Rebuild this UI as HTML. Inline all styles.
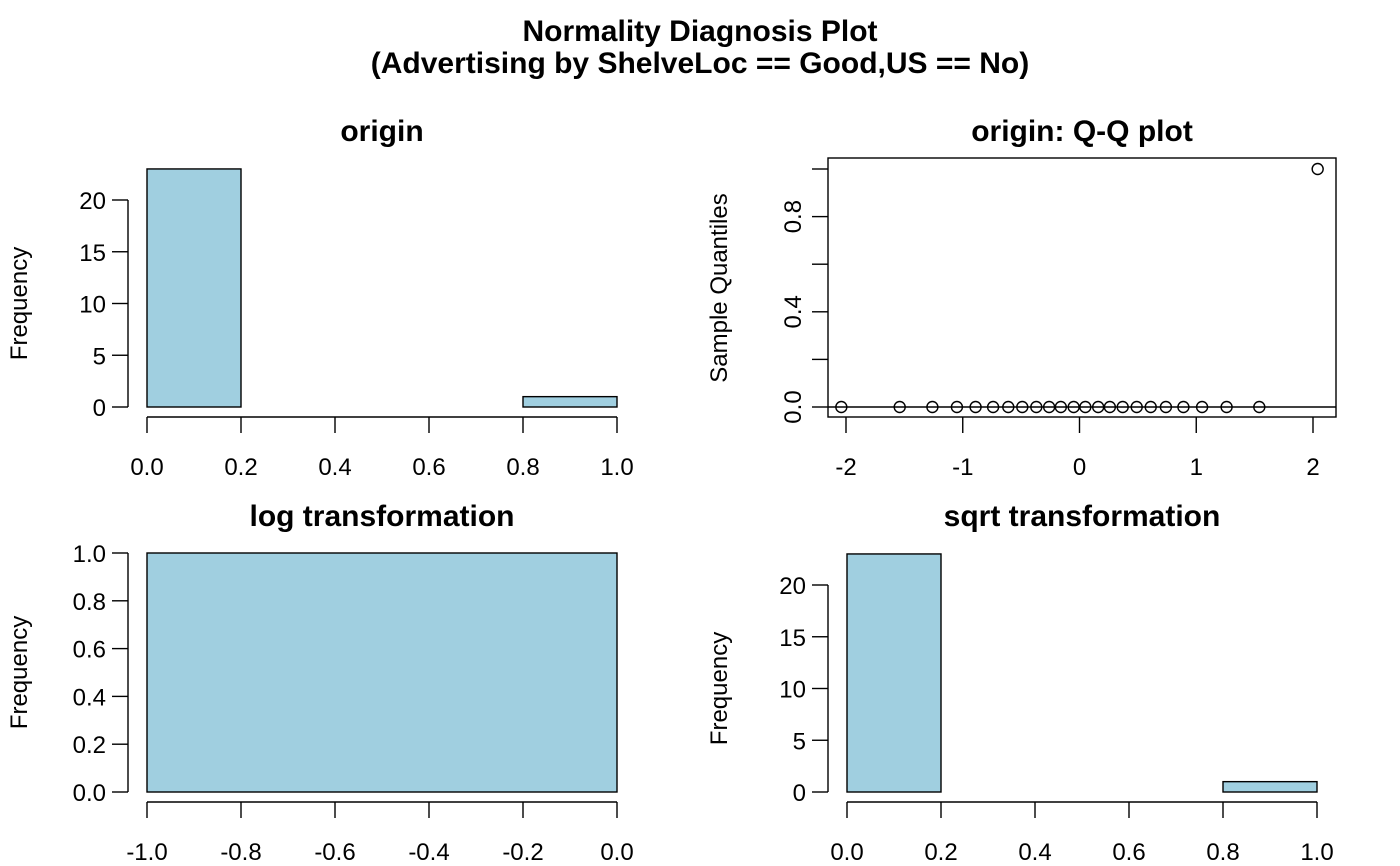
<!DOCTYPE html>
<html><head><meta charset="utf-8"><style>
body{margin:0;background:#fff}
svg{display:block;font-family:"Liberation Sans",Arial,sans-serif}
</style></head><body>
<svg id="c" width="1400" height="866" xmlns="http://www.w3.org/2000/svg">
<text style="font-weight:bold;font-size:30px" text-anchor="middle" x="700" y="41">Normality Diagnosis Plot</text>
<text style="font-weight:bold;font-size:30px" text-anchor="middle" x="700" y="73">(Advertising by ShelveLoc == Good,US == No)</text>
</svg>
<script>
const originBreaks=[0,0.2,0.4,0.6,0.8,1.0];
const originCounts=[23,0,0,0,1];
const logBreaks=[-1.0,0.0];
const logCounts=[1];
const sqrtBreaks=[0,0.2,0.4,0.6,0.8,1.0];
const sqrtCounts=[23,0,0,0,1];
const qqTheo=[-2.04,-1.54,-1.26,-1.05,-0.89,-0.74,-0.61,-0.49,-0.37,-0.26,-0.16,-0.05,0.05,0.16,0.26,0.37,0.49,0.61,0.74,0.89,1.05,1.26,1.54,2.04];
const qqSample=[0,0,0,0,0,0,0,0,0,0,0,0,0,0,0,0,0,0,0,0,0,0,0,1];
const xTicksHist=["0.0","0.2","0.4","0.6","0.8","1.0"];
const xTicksLog=["-1.0","-0.8","-0.6","-0.4","-0.2","0.0"];
const yTicksHist=[0,5,10,15,20];
const yTicksLog=["0.0","0.2","0.4","0.6","0.8","1.0"];
const qqXTicks=[-2,-1,0,1,2];
const qqYTicks=[0,0.2,0.4,0.6,0.8,1.0];
const qqYLabels=["0.0","","0.4","","0.8",""];

const svg=document.getElementById('c');
const NS='http://www.w3.org/2000/svg';
const TS='font-weight:bold;font-size:30px';
const KS='font-size:24px';
function mk(tag,attrs,parent){const e=document.createElementNS(NS,tag);for(const k in attrs)e.setAttribute(k,attrs[k]);(parent||svg).appendChild(e);return e;}
function txt(s,attrs,parent){const e=mk('text',attrs,parent);e.textContent=s;return e;}

function hist(o){
  const g=mk('g',{});
  
  
  const sx=v=>o.x0+(v-o.xmin)/(o.xmax-o.xmin)*(o.x1-o.x0);
  const sy=v=>o.y0-(v/o.ymax)*(o.y0-o.y1);
  const t=txt(o.title,{style:TS,'text-anchor':'middle',x:(o.x0+o.x1)/2,y:o.ty},g);
  
  for(let i=0;i<o.counts.length;i++){
    const a=sx(o.breaks[i]),b=sx(o.breaks[i+1]),h=sy(o.counts[i]);
    const r=mk('rect',{x:a,y:h,width:b-a,height:sy(0)-h,fill:'#a0cfe0',stroke:'#000','stroke-width':1.4},g);
    
  }
  const yt=o.yticks;
  const ya=mk('line',{x1:o.ax,x2:o.ax,y1:sy(+yt[0]),y2:sy(+yt[yt.length-1]),stroke:'#000','stroke-width':1.4},g);
  
  yt.forEach(v=>{const y=sy(+v);mk('line',{x1:o.ax-16,x2:o.ax,y1:y,y2:y,stroke:'#000','stroke-width':1.4},g);
    const l=txt(String(v),{style:KS,x:o.ax-22,y:y+9,'text-anchor':'end'},g);});
  const ay=o.y0+10;
  const xa=mk('line',{x1:o.x0,x2:o.x1,y1:ay,y2:ay,stroke:'#000','stroke-width':1.4},g);
  
  o.xticks.forEach(v=>{const x=sx(+v);mk('line',{x1:x,x2:x,y1:ay,y2:ay+16,stroke:'#000','stroke-width':1.4},g);
    const l=txt(v,{style:KS,x:x,y:ay+58,'text-anchor':'middle'},g);});
  const yl=txt('Frequency',{style:KS,transform:`translate(${o.ax-101},${(sy(0)+sy(+yt[yt.length-1]))/2}) rotate(-90)`,'text-anchor':'middle'},g);
  
}
hist({name:'origin-histogram',title:'origin',ty:141,breaks:originBreaks,counts:originCounts,xmin:0,xmax:1,x0:147,x1:617,y0:407,y1:200,ymax:20,ax:128,yticks:yTicksHist,xticks:xTicksHist});
hist({name:'log-histogram',title:'log transformation',ty:526,breaks:logBreaks,counts:logCounts,xmin:-1,xmax:0,x0:147,x1:617,y0:792,y1:553,ymax:1,ax:128,yticks:yTicksLog,xticks:xTicksLog});
hist({name:'sqrt-histogram',title:'sqrt transformation',ty:526,breaks:sqrtBreaks,counts:sqrtCounts,xmin:0,xmax:1,x0:847,x1:1317,y0:792,y1:585,ymax:20,ax:828,yticks:yTicksHist,xticks:xTicksHist});

(function(){
  const g=mk('g',{});
  
  
  const bx0=828,bx1=1336,by0=158,by1=417;
  const sx=v=>846+(v+2)/4*(1313-846);
  const sy=v=>407-v*(407-169);
  const t=txt('origin: Q-Q plot',{style:TS,'text-anchor':'middle',x:1082,y:141},g);
  
  const box=mk('rect',{x:bx0,y:by0,width:bx1-bx0,height:by1-by0,fill:'none',stroke:'#000','stroke-width':1.4},g);
  
  qqYTicks.forEach((v,i)=>{const y=sy(v);mk('line',{x1:bx0-16,x2:bx0,y1:y,y2:y,stroke:'#000','stroke-width':1.4},g);
    if(qqYLabels[i]){const l=txt(qqYLabels[i],{style:KS,transform:`translate(${bx0-27},${y}) rotate(-90)`,'text-anchor':'middle'},g);}});
  qqXTicks.forEach(v=>{const x=sx(v);mk('line',{x1:x,x2:x,y1:by1,y2:by1+16,stroke:'#000','stroke-width':1.4},g);
    const l=txt(String(v),{style:KS,x:x,y:by1+58,'text-anchor':'middle'},g);});
  const yl=txt('Sample Quantiles',{style:KS,transform:`translate(727,${sy(0.5)}) rotate(-90)`,'text-anchor':'middle'},g);
  
  const ln=mk('line',{x1:bx0,x2:bx1,y1:sy(0),y2:sy(0),stroke:'#000','stroke-width':1.4},g);
  
  qqTheo.forEach((v,i)=>{const c=mk('circle',{cx:sx(v),cy:sy(qqSample[i]),r:5.5,fill:'none',stroke:'#000','stroke-width':1.4},g);
    });
})();
</script>
</body></html>
